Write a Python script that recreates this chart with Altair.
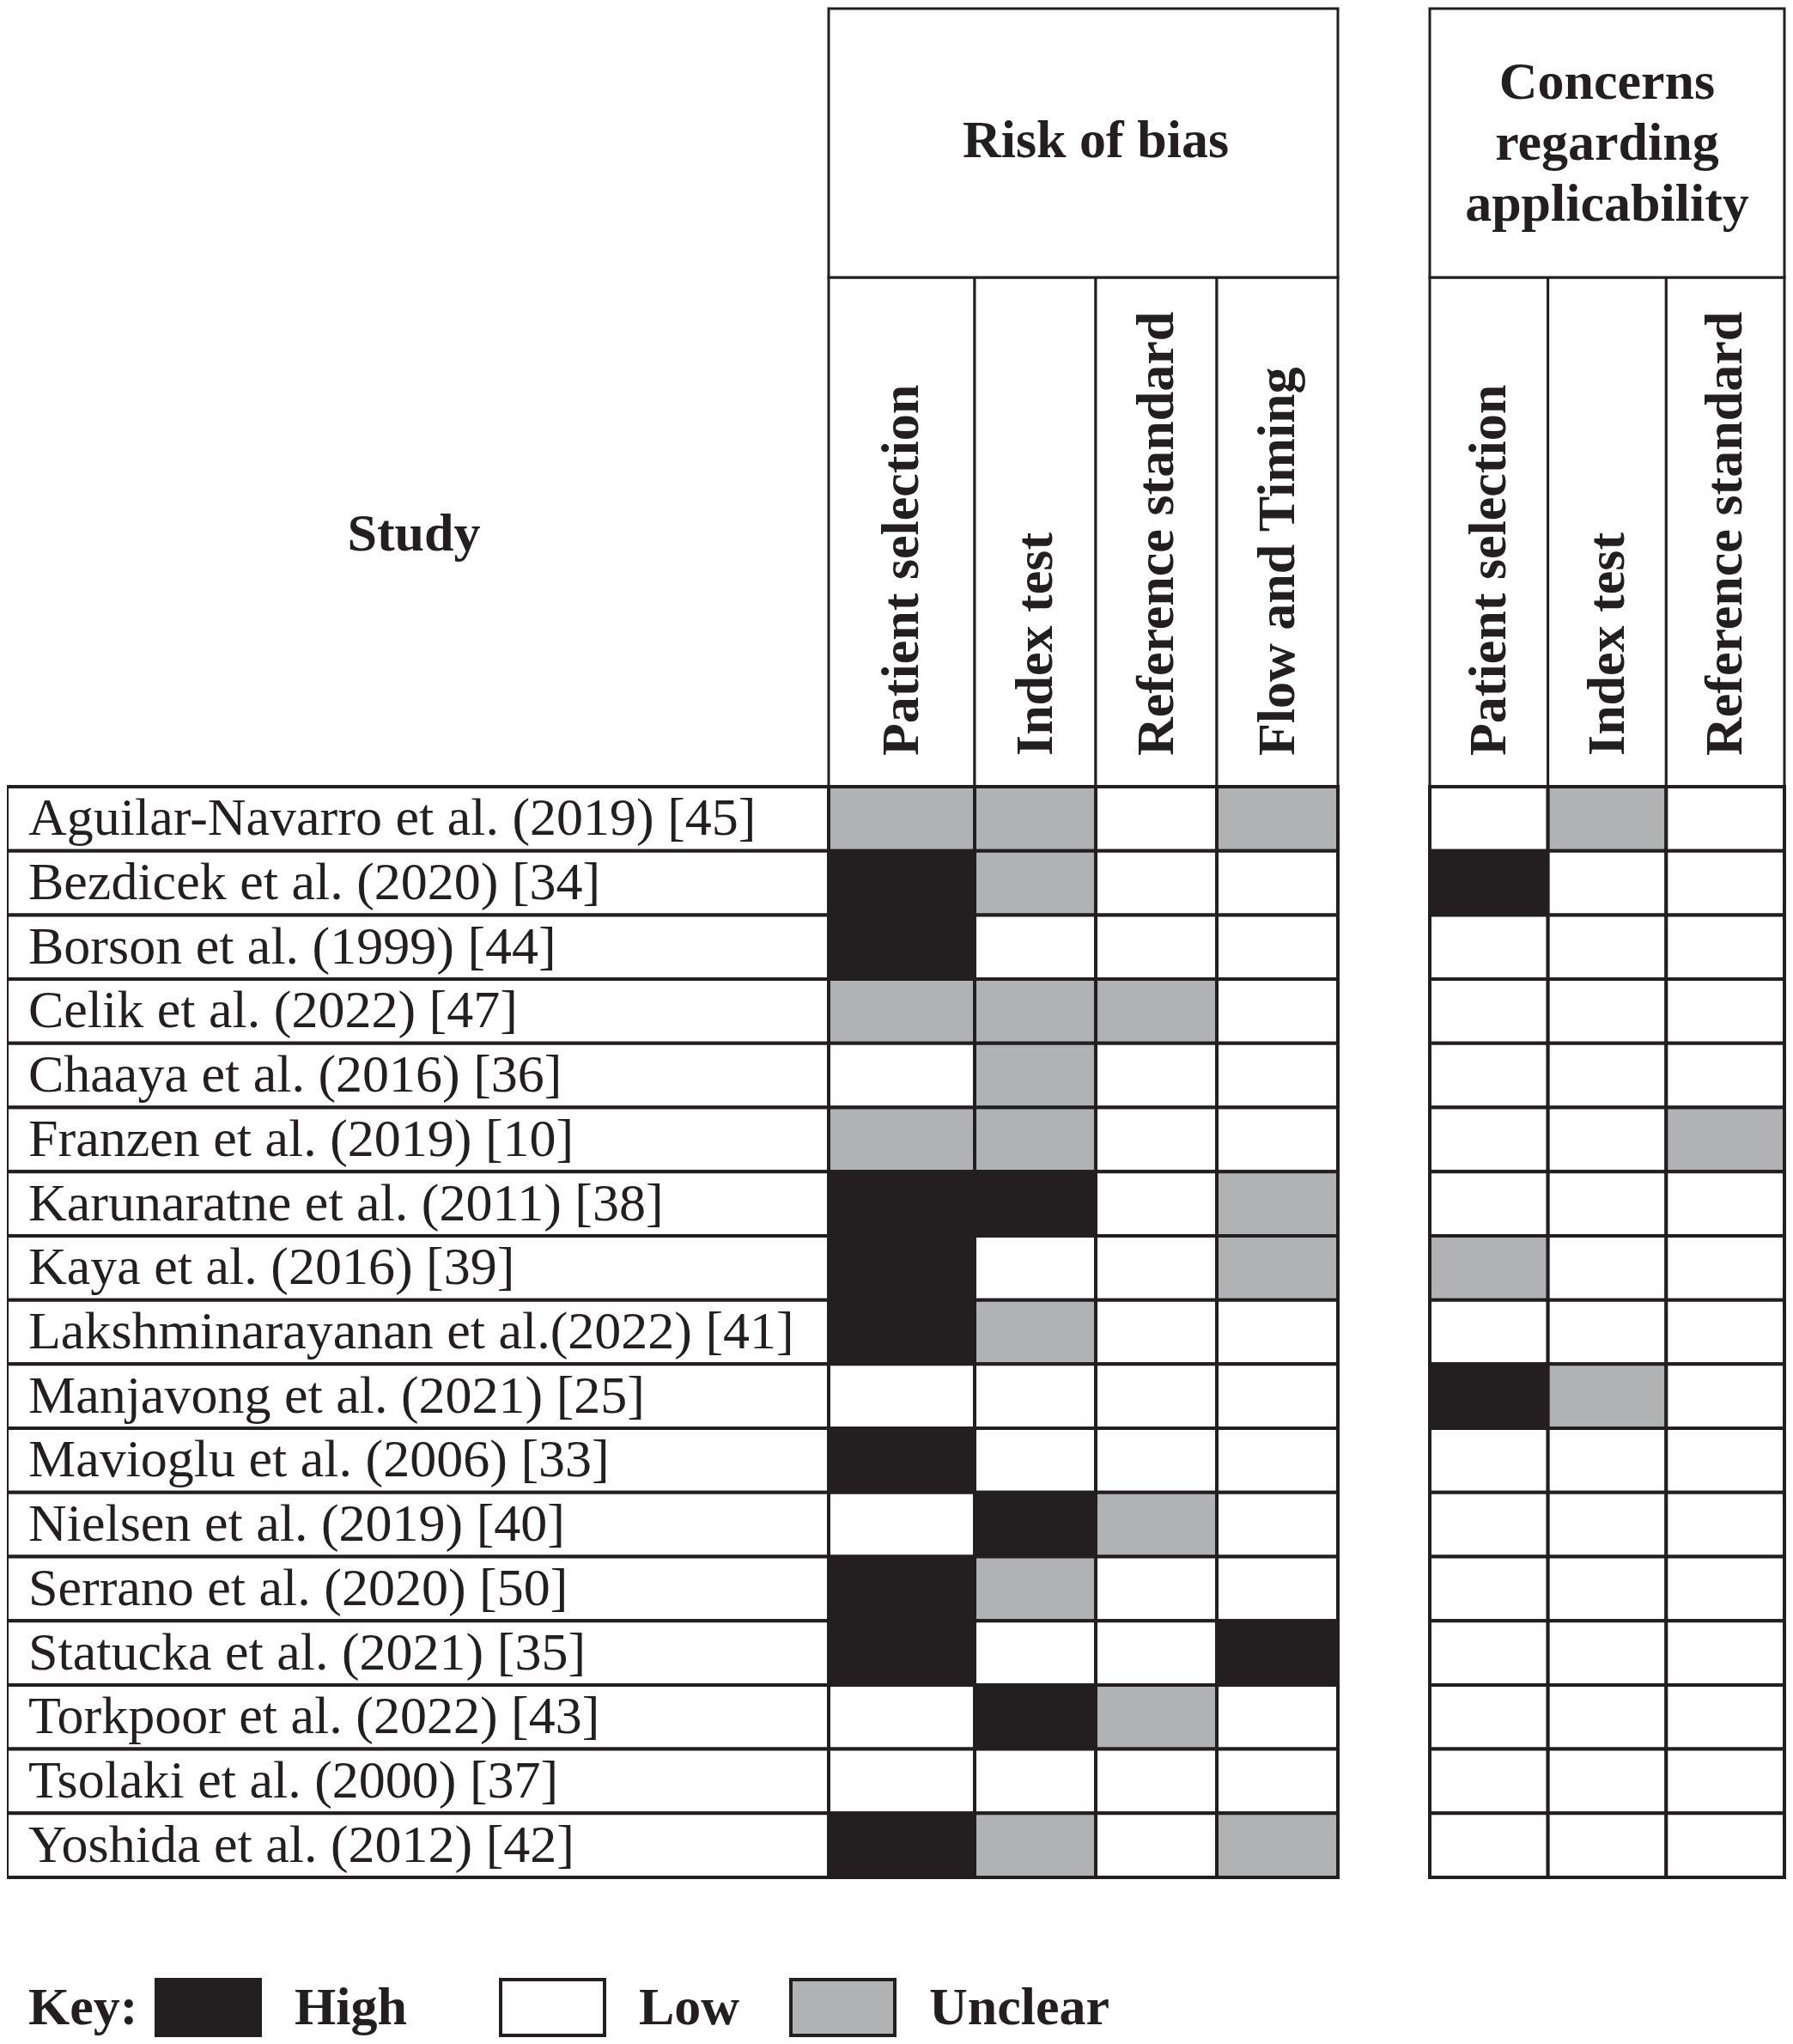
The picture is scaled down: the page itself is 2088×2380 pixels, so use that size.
import altair as alt
import pandas as pd

INK = "#231f20"
GRAY = "#b1b2b4"
FONT = "Liberation Serif"

studies = [
    "Aguilar-Navarro et al. (2019) [45]",
    "Bezdicek et al. (2020) [34]",
    "Borson et al. (1999) [44]",
    "Celik et al. (2022) [47]",
    "Chaaya et al. (2016) [36]",
    "Franzen et al. (2019) [10]",
    "Karunaratne et al. (2011) [38]",
    "Kaya et al. (2016) [39]",
    "Lakshminarayanan et al.(2022) [41]",
    "Manjavong et al. (2021) [25]",
    "Mavioglu et al. (2006) [33]",
    "Nielsen et al. (2019) [40]",
    "Serrano et al. (2020) [50]",
    "Statucka et al. (2021) [35]",
    "Torkpoor et al. (2022) [43]",
    "Tsolaki et al. (2000) [37]",
    "Yoshida et al. (2012) [42]",
]

groups = ["Risk of bias", "Concerns\nregarding\napplicability"]
risk_domains = ["Patient selection", "Index test", "Reference standard", "Flow and Timing"]
appl_domains = ["Patient selection", "Index test", "Reference standard"]

# H = High, L = Low, U = Unclear (one value per study, top to bottom)
rob_patient = ["U", "H", "H", "U", "L", "U", "H", "H", "H", "L", "H", "L", "H", "H", "L", "L", "H"]
rob_index   = ["U", "U", "L", "U", "U", "U", "H", "L", "U", "L", "L", "H", "U", "L", "H", "L", "U"]
rob_ref     = ["L", "L", "L", "U", "L", "L", "L", "L", "L", "L", "L", "U", "L", "L", "U", "L", "L"]
rob_flow    = ["U", "L", "L", "L", "L", "L", "U", "U", "L", "L", "L", "L", "L", "H", "L", "L", "U"]
app_patient = ["L", "H", "L", "L", "L", "L", "L", "U", "L", "H", "L", "L", "L", "L", "L", "L", "L"]
app_index   = ["U", "L", "L", "L", "L", "L", "L", "L", "L", "U", "L", "L", "L", "L", "L", "L", "L"]
app_ref     = ["L", "L", "L", "L", "L", "U", "L", "L", "L", "L", "L", "L", "L", "L", "L", "L", "L"]

key_labels = ["High", "Low", "Unclear"]
names = {"H": "High", "L": "Low", "U": "Unclear"}

columns = [rob_patient, rob_index, rob_ref, rob_flow, app_patient, app_index, app_ref]
col_names = risk_domains + appl_domains

# ---- build tables ----
rows = []
for c, vals in enumerate(columns):
    pos = c + (1 if c >= 4 else 0)
    for s, v in zip(studies, vals):
        rows.append({"study": s, "pos": pos, "pos_end": pos + 1, "judgment": names[v]})
cells_df = pd.DataFrame(rows)

cols_df = pd.DataFrame({
    "name": col_names,
    "pos": [c + (1 if c >= 4 else 0) for c in range(len(col_names))],
})
cols_df["pos_end"] = cols_df["pos"] + 1
cols_df["center"] = cols_df["pos"] + 0.5

grp_df = pd.DataFrame({"name": groups, "gi": [0, 1], "start": [0, 5], "end": [4, 8]})
grp_df["center"] = (grp_df["start"] + grp_df["end"]) / 2

study_df = pd.DataFrame({"study": studies})
key_df = pd.DataFrame({"label": key_labels, "k": list(range(len(key_labels)))})


def xs():
    return alt.Scale(domain=[0, 1, 4, 5, 8], range=[957, 1127, 1550, 1657, 2070], nice=False, zero=False)


def ys():
    return alt.Scale(domain=studies, range=[908, 2178], paddingInner=0, paddingOuter=0)


def ks():
    return alt.Scale(domain=[0, 1, 2], range=[174, 575, 913], nice=False, zero=False)


fill_scale = alt.Scale(domain=["High", "Low", "Unclear"], range=[INK, "#ffffff", GRAY])

cells = alt.Chart(cells_df).mark_rect(stroke=INK, strokeWidth=4).encode(
    x=alt.X("pos:Q", scale=xs(), axis=None),
    x2="pos_end:Q",
    y=alt.Y("study:N", scale=ys(), axis=None, sort=studies),
    fill=alt.Fill("judgment:N", scale=fill_scale, legend=None),
)

study_boxes = alt.Chart(study_df).mark_rect(fill="white", stroke=INK, strokeWidth=4).encode(
    x=alt.value(0), x2=alt.value(957),
    y=alt.Y("study:N", scale=ys(), axis=None, sort=studies),
)

study_text = alt.Chart(study_df).mark_text(
    align="left", baseline="middle", font=FONT, fontSize=62, color=INK
).encode(
    x=alt.value(25),
    y=alt.Y("study:N", scale=ys(), axis=None, sort=studies),
    text="study:N",
)

col_boxes = alt.Chart(cols_df).mark_rect(fill="white", stroke=INK, strokeWidth=3).encode(
    x=alt.X("pos:Q", scale=xs(), axis=None),
    x2="pos_end:Q",
    y=alt.value(315), y2=alt.value(908),
)

col_text = alt.Chart(cols_df).mark_text(
    angle=270, align="left", baseline="middle", font=FONT, fontSize=62,
    fontWeight="bold", color=INK
).encode(
    x=alt.X("center:Q", scale=xs(), axis=None),
    y=alt.value(872),
    text="name:N",
)

grp_boxes = alt.Chart(grp_df).mark_rect(fill="white", stroke=INK, strokeWidth=3).encode(
    x=alt.X("start:Q", scale=xs(), axis=None),
    x2="end:Q",
    y=alt.value(2), y2=alt.value(315),
)

grp_style = dict(align="center", baseline="middle", font=FONT, fontSize=62, fontWeight="bold",
                 color=INK, lineBreak="\n", lineHeight=71)

grp_text_risk = alt.Chart(grp_df).transform_filter("datum.gi == 0").mark_text(**grp_style).encode(
    x=alt.X("center:Q", scale=xs(), axis=None),
    y=alt.value(156),
    text="name:N",
)

grp_text_appl = alt.Chart(grp_df).transform_filter("datum.gi == 1").mark_text(**grp_style).encode(
    x=alt.X("center:Q", scale=xs(), axis=None),
    y=alt.value(88),
    text="name:N",
)

study_head = alt.Chart(pd.DataFrame({"t": ["Study"]})).mark_text(
    align="center", baseline="middle", font=FONT, fontSize=62, fontWeight="bold", color=INK
).encode(x=alt.value(474), y=alt.value(614), text="t:N")

key_title = alt.Chart(pd.DataFrame({"t": ["Key:"]})).mark_text(
    align="left", baseline="middle", font=FONT, fontSize=62, fontWeight="bold", color=INK
).encode(x=alt.value(25), y=alt.value(2330), text="t:N")

key_boxes = alt.Chart(key_df).mark_rect(stroke=INK, strokeWidth=4, x2Offset=121).encode(
    x=alt.X("k:Q", scale=ks(), axis=None),
    x2="k:Q",
    y=alt.value(2297), y2=alt.value(2362),
    fill=alt.Fill("label:N", scale=fill_scale, legend=None),
)

key_text = alt.Chart(key_df).mark_text(
    align="left", baseline="middle", font=FONT, fontSize=62, fontWeight="bold",
    color=INK, dx=161
).encode(
    x=alt.X("k:Q", scale=ks(), axis=None),
    y=alt.value(2330),
    text="label:N",
)

chart = alt.layer(
    study_boxes, study_text, col_boxes, col_text, grp_boxes, grp_text_risk, grp_text_appl,
    cells, study_head, key_title, key_boxes, key_text,
).resolve_scale(
    x="independent", y="independent", fill="independent"
).properties(
    width=2072, height=2364,
    padding=0, autosize=alt.AutoSizeParams(type="none"),
    background="white",
).configure_view(stroke=None)

chart.save("out.html", embed_options={"renderer": "svg", "actions": False})
